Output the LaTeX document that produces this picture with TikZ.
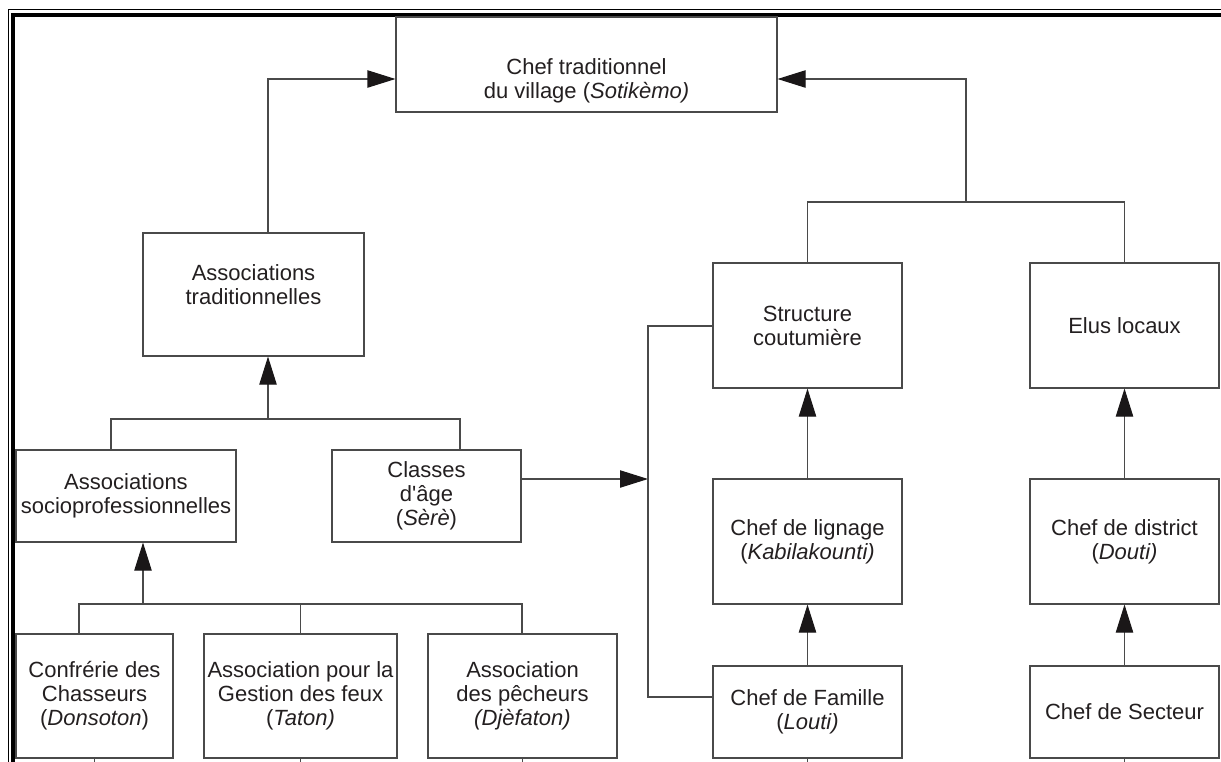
\documentclass[tikz,border=0pt]{standalone}
\usepackage{fontspec}
\setmainfont{Liberation Sans}[Ligatures=TeXOff]
\usetikzlibrary{arrows.meta,calc}
\definecolor{linecol}{HTML}{4A4A4A}
\definecolor{txtcol}{HTML}{231F20}
\definecolor{tipcol}{HTML}{1A1718}
\tikzset{
  box/.style={draw=linecol, line width=0.8pt, rectangle, inner sep=0pt, align=center,
    text=txtcol, font=\fontsize{16.5pt}{18pt}\selectfont},
  conn/.style={draw=linecol, line width=0.8pt},
  arr/.style={conn, -{Triangle[length=21pt,width=13pt,color=tipcol]}},
  frame/.style={draw=black},
}
\begin{document}
\begin{tikzpicture}[x=0.75pt,y=-0.75pt]
\useasboundingbox (0,0) rectangle (1221,761);
% frame
\draw[frame, line width=0.8pt] (8.5,770) -- (8.5,9.5) -- (1230,9.5);
\draw[frame, line width=3.2pt] (13,770) -- (13,14.8) -- (1230,14.8);

% boxes
\node[box, minimum width=381*0.75pt, minimum height=95*0.75pt,
  label={[box, draw=none, yshift=-16.5*0.75pt]center:Chef traditionnel\\du village (\textit{Sotikèmo)}}]
  (chef) at (586.5,64.5) {};
\node[box, minimum width=221*0.75pt, minimum height=123*0.75pt,
  label={[box, draw=none, yshift=9.5*0.75pt]center:Associations\\traditionnelles}]
  (atrad) at (253.5,294.5) {};
\node[box, minimum width=220*0.75pt, minimum height=92*0.75pt] (socio) at (126,496)
  {Associations\\socioprofessionnelles};
\node[box, minimum width=189*0.75pt, minimum height=92*0.75pt] (classes) at (426.5,496)
  {Classes\\d'âge\\(\textit{Sèrè})};
\node[box, minimum width=157*0.75pt, minimum height=124*0.75pt] (confr) at (94.5,696)
  {Confrérie des\\Chasseurs\\(\textit{Donsoton})};
\node[box, minimum width=193*0.75pt, minimum height=124*0.75pt] (gestion) at (300.5,696)
  {Association pour la\\Gestion des feux\\(\textit{Taton)}};
\node[box, minimum width=189*0.75pt, minimum height=124*0.75pt] (pech) at (522.5,696)
  {Association\\des pêcheurs\\\textit{(Djèfaton)}};
\node[box, minimum width=189*0.75pt, minimum height=125*0.75pt] (struct) at (807.5,325.5)
  {Structure\\coutumière};
\node[box, minimum width=189*0.75pt, minimum height=125*0.75pt] (elus) at (1124.5,325.5)
  {Elus locaux};
\node[box, minimum width=189*0.75pt, minimum height=125*0.75pt] (lign) at (807.5,541.5)
  {Chef de lignage\\(\textit{Kabilakounti)}};
\node[box, minimum width=189*0.75pt, minimum height=125*0.75pt] (distr) at (1124.5,541.5)
  {Chef de district\\(\textit{Douti)}};
\node[box, minimum width=189*0.75pt, minimum height=92*0.75pt] (fam) at (807.5,712)
  {Chef de Famille\\(\textit{Louti)}};
\node[box, minimum width=189*0.75pt, minimum height=92*0.75pt] (sect) at (1124.5,712)
  {Chef de Secteur};

% helper coordinates
\coordinate (lt) at (268,79);
\coordinate (rt) at (966,79);
\coordinate (rb) at (966,202);
\coordinate (lb) at (268,419);
\coordinate (s1) at (111,419);
\coordinate (s2) at (460,419);
\coordinate (bb) at (143,604);
\coordinate (c1) at (79,604);
\coordinate (c3) at (522,604);
\coordinate (cv) at (648,479);
\coordinate (vt) at (648,326);
\coordinate (vb) at (648,697);

% connectors
\draw[arr] (atrad.north -| lt) -- (lt) -- (lt -| chef.west);
\draw[conn] (struct.north) |- (rb) -| (elus.north);
\draw[arr] (rb) -- (rt) -- (rt -| chef.east);
\draw[arr] (lb) -- (atrad.south -| lb);
\draw[conn] (socio.north -| s1) -- (s1) -- (s2) -- (classes.north -| s2);
\draw[arr] (bb) -- (socio.south -| bb);
\draw[conn] (confr.north -| c1) -- (c1) -- (c3) -- (pech.north -| c3);
\draw[conn] (gestion.north) -- (gestion.north |- c1);
\draw[arr] (classes.east |- cv) -- (cv);
\draw[conn] (struct.west |- vt) -- (vt) -- (vb) -- (fam.west |- vb);
\draw[arr] (lign.north) -- (struct.south);
\draw[arr] (fam.north) -- (lign.south);
\draw[arr] (distr.north) -- (elus.south);
\draw[arr] (sect.north) -- (distr.south);

% stubs of connectors leaving the picture at the bottom
\foreach \n in {confr,gestion,pech,fam,sect}
  \draw[conn] (\n.south) -- ++(0,6);
\end{tikzpicture}
\end{document}
